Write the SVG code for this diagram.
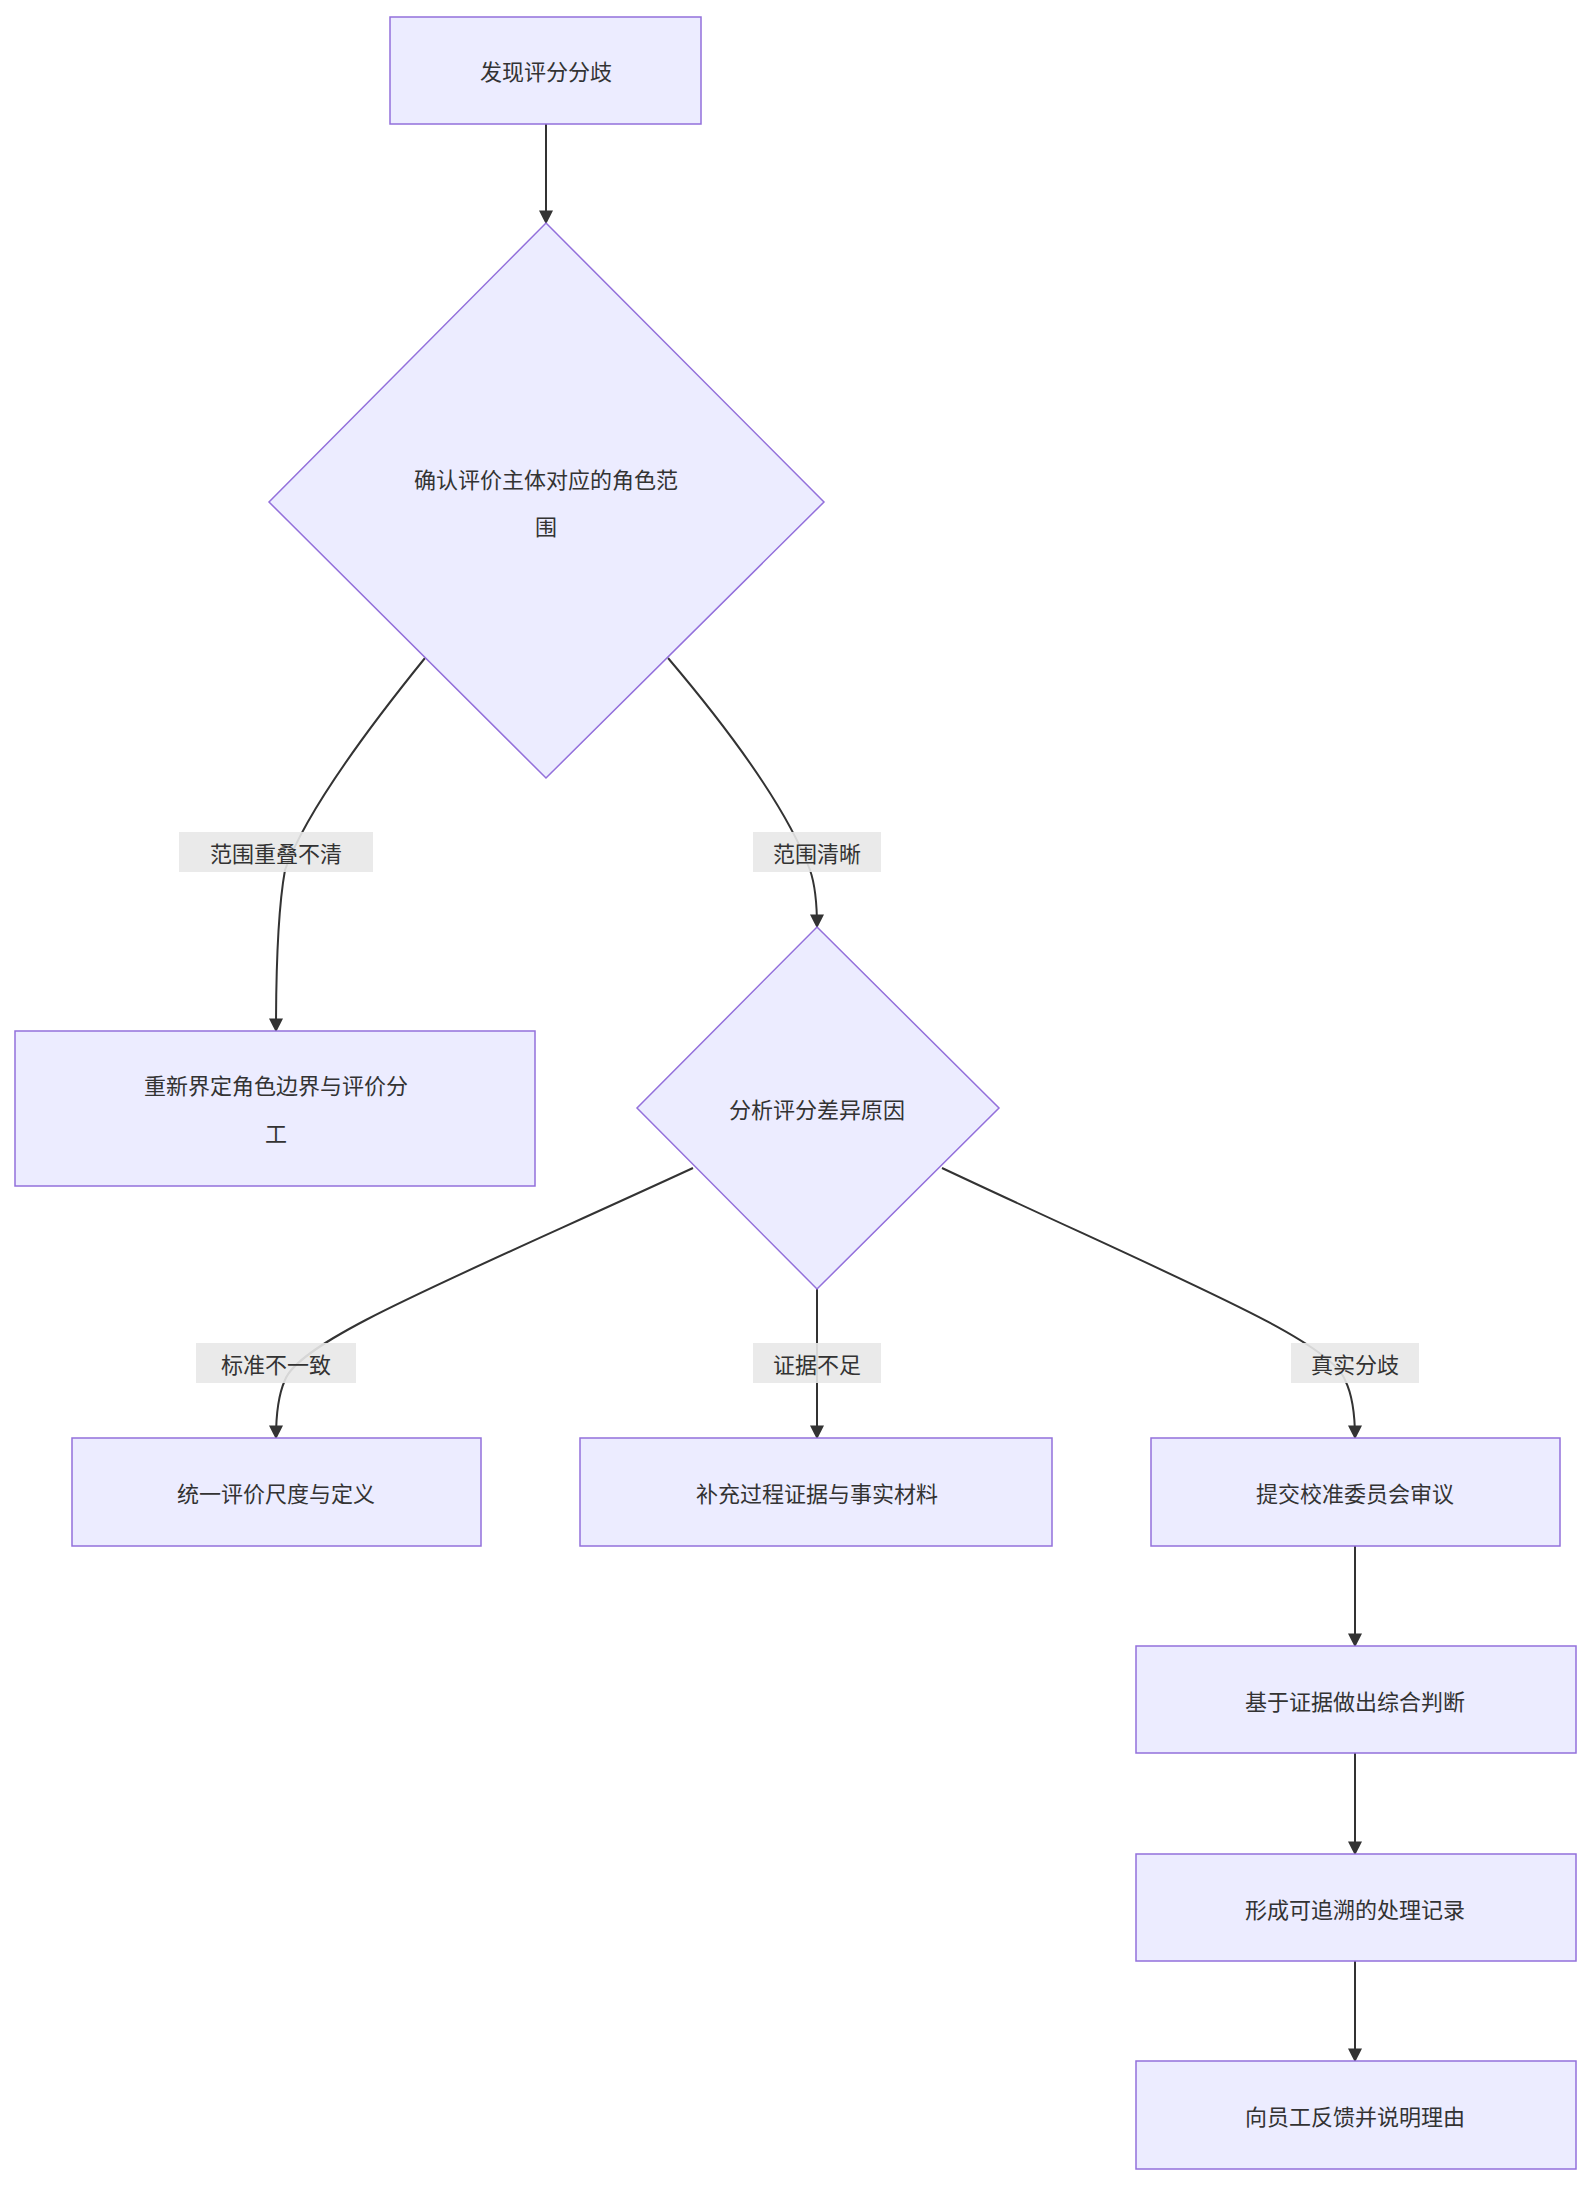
<svg xmlns="http://www.w3.org/2000/svg" width="1593" height="2188" viewBox="0 0 1593 2188">
<style>
.n{fill:#ECECFF;stroke:#9370DB;stroke-width:1.5}
.t{font-family:"Noto Sans CJK SC","Liberation Sans",sans-serif;font-size:22px;fill:#333;text-anchor:middle;dominant-baseline:central}
.e{fill:none;stroke:#333;stroke-width:2;marker-end:url(#a)}
.lb{fill:#e8e8e8;opacity:0.9}
</style>
<defs><marker id="a" viewBox="0 0 10 10" refX="9" refY="5" markerWidth="7" markerHeight="7" orient="auto"><path d="M0,0L10,5L0,10z" fill="#333"/></marker></defs>
<rect width="1593" height="2188" fill="#fff"/>
<g id="edges">
<path class="e" d="M546,124V223"/>
<path class="e" d="M425,658Q310,800 285,870Q276,920 276,1031"/>
<path class="e" d="M668,658Q780,790 810,870Q817,890 817,927"/>
<path class="e" d="M693,1168C450,1280 300,1340 285,1380Q276,1400 276,1438"/>
<path class="e" d="M817,1289V1438"/>
<path class="e" d="M942,1168C1180,1280 1330,1340 1345,1380Q1355,1400 1355,1438"/>
<path class="e" d="M1355,1546V1646"/>
<path class="e" d="M1355,1753V1854"/>
<path class="e" d="M1355,1961V2061"/>
</g>
<g id="labels">
<rect class="lb" x="179" y="832" width="194" height="40"/><text class="t" x="276" y="852">范围重叠不清</text>
<rect class="lb" x="753" y="832" width="128" height="40"/><text class="t" x="817" y="852">范围清晰</text>
<rect class="lb" x="196" y="1343" width="160" height="40"/><text class="t" x="276" y="1363">标准不一致</text>
<rect class="lb" x="753" y="1343" width="128" height="40"/><text class="t" x="817" y="1363">证据不足</text>
<rect class="lb" x="1291" y="1343" width="128" height="40"/><text class="t" x="1355" y="1363">真实分歧</text>
</g>
<g id="n1"><rect class="n" x="390" y="17" width="311" height="107"/><text class="t" x="546" y="70">发现评分分歧</text></g>
<g id="n2"><polygon class="n" points="546,223 824,502 546,778 269,502"/><text class="t" x="546" y="478">确认评价主体对应的角色范</text><text class="t" x="546" y="525">围</text></g>
<g id="n3"><rect class="n" x="15" y="1031" width="520" height="155"/><text class="t" x="276" y="1084">重新界定角色边界与评价分</text><text class="t" x="276" y="1132">工</text></g>
<g id="n4"><polygon class="n" points="817,927 999,1108 817,1289 637,1108"/><text class="t" x="817" y="1108">分析评分差异原因</text></g>
<g id="n5"><rect class="n" x="72" y="1438" width="409" height="108"/><text class="t" x="276" y="1492">统一评价尺度与定义</text></g>
<g id="n6"><rect class="n" x="580" y="1438" width="472" height="108"/><text class="t" x="817" y="1492">补充过程证据与事实材料</text></g>
<g id="n7"><rect class="n" x="1151" y="1438" width="409" height="108"/><text class="t" x="1355" y="1492">提交校准委员会审议</text></g>
<g id="n8"><rect class="n" x="1136" y="1646" width="440" height="107"/><text class="t" x="1355" y="1700">基于证据做出综合判断</text></g>
<g id="n9"><rect class="n" x="1136" y="1854" width="440" height="107"/><text class="t" x="1355" y="1908">形成可追溯的处理记录</text></g>
<g id="n10"><rect class="n" x="1136" y="2061" width="440" height="108"/><text class="t" x="1355" y="2115">向员工反馈并说明理由</text></g>
</svg>
